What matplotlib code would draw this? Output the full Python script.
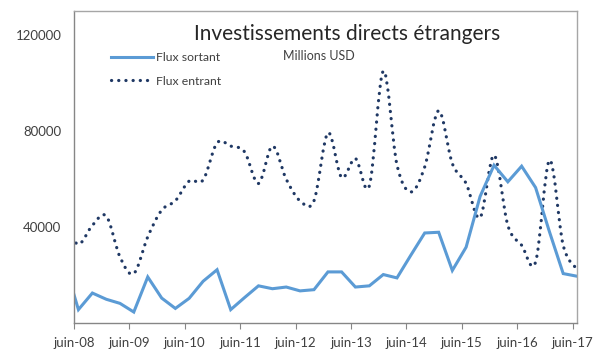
import numpy as np
import pandas as pd
import matplotlib
matplotlib.use("Agg")
import matplotlib.pyplot as plt
import matplotlib.dates as mdates
from matplotlib.path import Path
from matplotlib.patches import PathPatch
from matplotlib.lines import Line2D

plt.rcParams['font.family'] = ['Lato', 'DejaVu Sans']

# Trimestres (fin de trimestre), de mars-08 à juin-17
trimestres = pd.date_range("2008-03-31", "2017-06-30", freq="QE")

# Millions USD
flux_sortant = [25000, 5700, 12600, 10000, 8300, 4700, 19300, 10500, 6200, 10400,
                17500, 22300, 5700, 10700, 15600, 14400, 15100, 13500, 14000, 21400,
                21400, 15100, 15600, 20300, 18900, 28300, 37600, 37900, 22000, 31700,
                52800, 65800, 58900, 65400, 56500, 38000, 20700, 19600]
flux_entrant = [41000, 32900, 40800, 44600, 27600, 20700, 36000, 47100, 51000, 59200,
                59700, 75100, 73750, 71400, 58200, 73750, 60000, 51000, 51000, 79300,
                60700, 68600, 57200, 105000, 66000, 54700, 65100, 88500, 66500, 58200,
                44000, 70000, 40800, 32500, 25500, 67900, 32500, 22500]

ticks = pd.date_range("2008-06-01", "2017-06-01", freq="12MS")
tick_labels = ["juin-%02d" % (d.year % 100) for d in ticks]

x = mdates.date2num(trimestres)

fig, ax = plt.subplots(figsize=(5.97, 3.49), dpi=100)
fig.subplots_adjust(left=0.124, right=0.9665, bottom=0.0736, top=0.9685)

bleu = "#5B9BD5"
marine = "#1F3864"

ax.plot(x, flux_sortant, color=bleu, lw=2.2, solid_joinstyle="miter")

# courbe lissée (façon Excel) pour le flux entrant
y = np.array(flux_entrant, dtype=float)
pts = np.column_stack([x, y])
verts = [pts[0]]
codes = [Path.MOVETO]
n = len(pts)
for i in range(n - 1):
    p0 = pts[max(i - 1, 0)]
    p1 = pts[i]
    p2 = pts[i + 1]
    p3 = pts[min(i + 2, n - 1)]
    c1 = p1 + (p2 - p0) / 6
    c2 = p2 - (p3 - p1) / 6
    verts += [c1, c2, p2]
    codes += [Path.CURVE4] * 3
patch = PathPatch(Path(verts, codes), fill=False, edgecolor=marine, lw=2.3,
                  linestyle=(0, (0.05, 2.2)), capstyle="round")
ax.add_patch(patch)

ax.set_xlim(mdates.date2num(pd.Timestamp("2008-06-01")), x[-1])
ax.set_ylim(0, 130000)
ax.set_xticks(mdates.date2num(ticks))
ax.set_xticklabels(tick_labels)
ax.set_yticks([40000, 80000, 120000])
ax.set_yticklabels(["40000", "80000", "120000"])
ax.tick_params(axis="x", length=4, color="#868686", labelsize=9.5,
               labelcolor="#404040", pad=6)
ax.tick_params(axis="y", length=0, labelsize=9.5, labelcolor="#404040", pad=9)
for s in ax.spines.values():
    s.set_color("#A6A6A6")
    s.set_linewidth(1.0)
ax.spines["left"].set_color("#868686")
ax.spines["bottom"].set_color("#868686")

ax.text(0.5437, 0.925, "Investissements directs étrangers", transform=ax.transAxes,
        ha="center", va="center", fontsize=15, color="#262626")
ax.text(0.4155, 0.856, "Millions USD", transform=ax.transAxes,
        ha="left", va="center", fontsize=9, color="#404040")

handles = [Line2D([], [], color=bleu, lw=2.2),
           Line2D([], [], color=marine, lw=2.3, linestyle=(0, (0.05, 2.2)),
                  dash_capstyle="round")]
ax.legend(handles, ["Flux sortant", "Flux entrant"], loc="upper left",
          bbox_to_anchor=(0.064, 0.885), frameon=False, fontsize=8.8,
          handlelength=3.4, handletextpad=0.25, labelspacing=1.05,
          labelcolor="#404040", borderaxespad=0)

fig.savefig("out.png", dpi=100)
